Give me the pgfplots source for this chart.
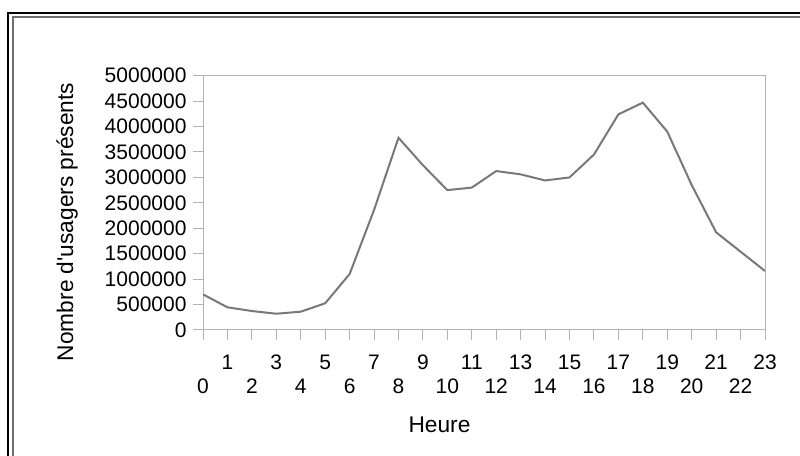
\documentclass[border=0pt]{standalone}
\usepackage{pgfplots}
\pgfplotsset{compat=1.18}
\usepackage{fontspec}
\setmainfont{Liberation Sans}
\definecolor{axgray}{RGB}{179,179,179}
\definecolor{linegray}{RGB}{120,120,120}
\definecolor{framegray}{RGB}{110,110,110}
\newcommand{\lo}[1]{\raisebox{-24bp}{#1}}
\begin{document}
\begin{tikzpicture}[x=1bp,y=1bp]
\path[use as bounding box] (0,0) rectangle (800,456);
\draw[black, line width=1.3bp] (8,-20) -- (8,443) -- (820,443);
\draw[framegray, line width=1.3bp] (13,-20) -- (13,439) -- (820,439);
\begin{axis}[
  at={(203bp,126bp)}, anchor=south west,
  scale only axis, width=562bp, height=254.3bp,
  xmin=0, xmax=23, ymin=0, ymax=5000000,
  axis line style={axgray, line width=1bp},
  tick style={axgray, line width=1bp},
  tick align=outside, major tick length=10bp,
  xtick pos=left, ytick pos=left,
  xtick={0,...,23},
  xticklabels={\lo{0},1,\lo{2},3,\lo{4},5,\lo{6},7,\lo{8},9,\lo{10},11,\lo{12},13,\lo{14},15,\lo{16},17,\lo{18},19,\lo{20},21,\lo{22},23},
  xticklabel style={anchor=base, yshift=-30bp},
  yticklabel style={xshift=-3bp},
  ytick={0,500000,...,5000000},
  scaled y ticks=false,
  /pgf/number format/.cd, fixed, precision=0, 1000 sep={}, assume math mode=true,
  /pgfplots/.cd,
  ticklabel style={font=\fontsize{21bp}{24bp}\selectfont, text=black},
]
\addplot[linegray, line width=2bp, no marks] table {
x y
0 700000
1 446000
2 373000
3 320000
4 360000
5 525000
6 1100000
7 2360000
8 3780000
9 3240000
10 2750000
11 2800000
12 3125000
13 3060000
14 2940000
15 3000000
16 3450000
17 4240000
18 4470000
19 3900000
20 2850000
21 1920000
22 1540000
23 1160000
};
\end{axis}
\node[rotate=90, font=\fontsize{22.7bp}{26bp}\selectfont] at (67,234) {Nombre d\textquotesingle usagers présents};
\node[anchor=base, font=\fontsize{22.7bp}{26bp}\selectfont] at (439.5,23) {Heure};
\end{tikzpicture}
\end{document}
